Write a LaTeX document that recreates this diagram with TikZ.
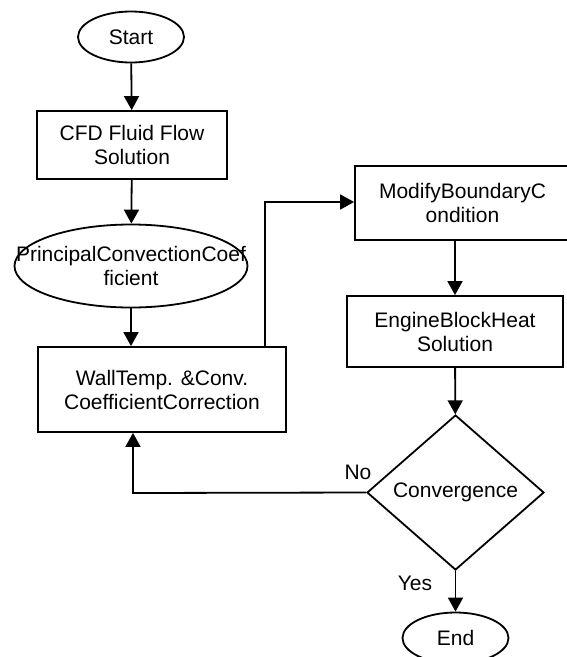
\documentclass[tikz,border=0pt]{standalone}
\usepackage{fontspec}
\setmainfont{Liberation Sans}
\usetikzlibrary{shapes.geometric,arrows.meta}

\begin{document}
\begin{tikzpicture}[x=1pt, y=-1pt, line width=1.8pt,
    font=\fontsize{21}{24}\selectfont,
    box/.style={draw, rectangle, align=center, inner sep=0pt},
    oval/.style={draw, ellipse, inner sep=0pt, minimum width=106pt, minimum height=51pt},
    arr/.style={-{Triangle[length=14pt, width=15pt]}}]
    \useasboundingbox (0,0) rectangle (566,657);

    % 開始
    \node[oval] (start) at (131,37) {Start};

    % 処理
    \node[box, minimum width=190pt, minimum height=68pt] (cfd) at (132,145) {CFD Fluid Flow\\Solution};
    \node[draw, ellipse, inner sep=0pt, minimum width=233pt, minimum height=83pt] (pcc) at (131,266) {};
    \node[align=center] (pcctext) at (pcc.center) {PrincipalConvectionCoef\\ficient};
    \node[box, minimum width=248pt, minimum height=85pt] (wall) at (162,389.5) {WallTemp. \&Conv.\\CoefficientCorrection};
    \node[box, minimum width=215pt, minimum height=74pt] (modify) at (462.5,203) {ModifyBoundaryC\\ondition};
    \node[box, minimum width=216pt, minimum height=71pt] (engine) at (455,331.5) {EngineBlockHeat\\Solution};

    % 判定
    \node[draw, diamond, inner sep=0pt, minimum width=177pt, minimum height=155pt] (conv) at (455.5,492.5) {Convergence};

    % 終了
    \node[oval] (end) at (455.5,638) {End};

    % 矢印
    \draw[arr] (start) -- (cfd);
    \draw[arr] (cfd) -- (pcc);
    \draw[arr] (pcc.south) -- (pcc.south |- wall.north);
    \coordinate (up) at (265,202);
    \draw[arr] (up |- wall.north) -- (up) -- (up -| modify.west);
    \draw[arr] (engine.north |- modify.south) -- (engine.north);
    \draw[arr] (engine) -- (conv);
    \coordinate (back) at (133,493);
    \draw[arr] (conv.west) -- (back) -- (back |- wall.south);
    \draw[arr] (conv) -- (end);

    % ラベル
    \node (no) at (358,472) {No};
    \node (yes) at (415,583) {Yes};
  \end{tikzpicture}
\end{document}
